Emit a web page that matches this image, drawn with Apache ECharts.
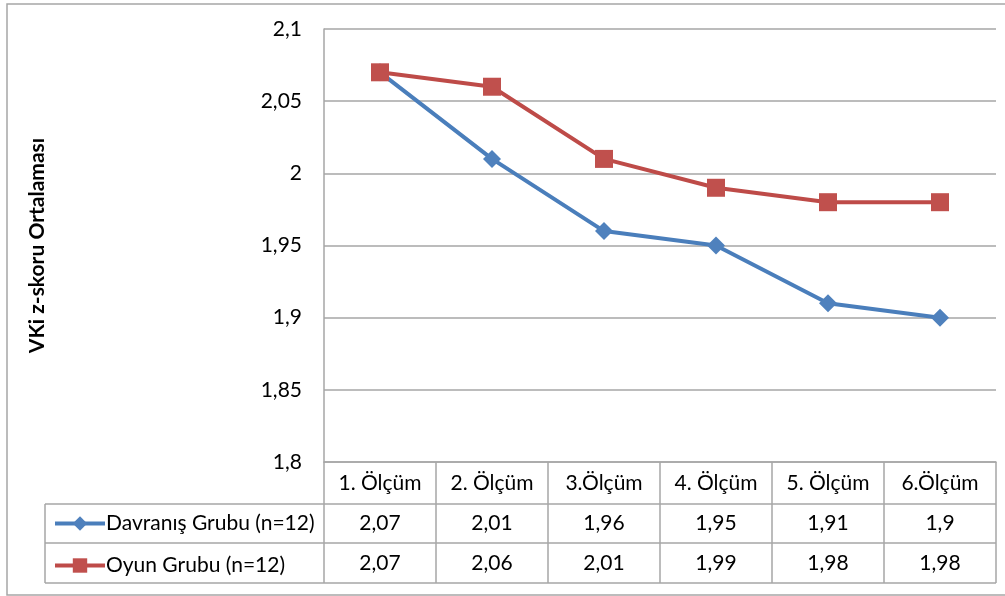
<!DOCTYPE html>
<html>
<head>
<meta charset="utf-8">
<script src="https://cdn.jsdelivr.net/npm/echarts@6/dist/echarts.min.js"></script>
<style>
html,body{margin:0;padding:0;background:#fff;}
#c{width:1005px;height:596px;}
</style>
</head>
<body>
<div id="c"></div>
<script>
const categories = ['1. Ölçüm', '2. Ölçüm', '3.Ölçüm', '4. Ölçüm', '5. Ölçüm', '6.Ölçüm'];
const davranis = [2.07, 2.01, 1.96, 1.95, 1.91, 1.9];
const oyun = [2.07, 2.06, 2.01, 1.99, 1.98, 1.98];
const seriesNames = ['Davranış Grubu (n=12)', 'Oyun Grubu (n=12)'];
const yTicks = [1.8, 1.85, 1.9, 1.95, 2, 2.05, 2.1];
const yTitle = 'VKi z-skoru Ortalaması';

const FONT = 'Lato';
const FS = 21;
const fmt = v => String(+v.toFixed(2)).replace('.', ',');

const G = {left: 324, top: 29, width: 672, height: 433};
const ROW = 40;

const chart = echarts.init(document.getElementById('c'), null, {renderer: 'canvas'});

function tableAxis(idx, values) {
  return {
    type: 'category', gridIndex: 0, position: 'bottom', offset: 42 + ROW * idx,
    data: categories, boundaryGap: true,
    axisLine: {show: false}, axisTick: {show: false},
    axisLabel: {margin: 9, color: '#000', fontFamily: FONT, fontSize: FS, formatter: (v, i) => fmt(values[i])}
  };
}

chart.setOption({
  animation: false,
  textStyle: {fontFamily: FONT},
  grid: G,
  legend: {
    orient: 'vertical', left: 48, top: 508, itemGap: 21, itemWidth: 50, itemHeight: 18,
    lineStyle: {width: 4},
    textStyle: {fontFamily: FONT, fontSize: FS, color: '#000', lineHeight: 18, padding: [0, 0, 0, -4]},
    data: seriesNames
  },
  xAxis: [
    {
      type: 'category', gridIndex: 0, data: categories, boundaryGap: true,
      axisLine: {lineStyle: {color: '#A6A6A6', width: 1.5}},
      axisTick: {show: true, length: 121, lineStyle: {color: '#A6A6A6', width: 1.5}},
      axisLabel: {margin: 11, color: '#000', fontFamily: FONT, fontSize: FS}
    },
    tableAxis(0, davranis),
    tableAxis(1, oyun)
  ],
  yAxis: {
    type: 'value', min: yTicks[0], max: yTicks[yTicks.length - 1], interval: 0.05,
    axisLine: {show: true, lineStyle: {color: '#A6A6A6', width: 1.5}},
    axisTick: {show: false},
    splitLine: {lineStyle: {color: '#A6A6A6', width: 1.5}},
    axisLabel: {margin: 22, color: '#000', fontFamily: FONT, fontSize: FS, formatter: v => fmt(v)},
    name: yTitle, nameLocation: 'middle', nameRotate: 90, nameGap: 276,
    nameTextStyle: {fontFamily: FONT, fontSize: 21, fontWeight: 'bold', color: '#000'}
  },
  series: [
    {
      name: seriesNames[0], type: 'line', data: davranis, xAxisIndex: 0,
      symbol: 'diamond', symbolSize: 18,
      lineStyle: {color: '#4A7EBB', width: 4},
      itemStyle: {color: '#4F81BD'}
    },
    {
      name: seriesNames[1], type: 'line', data: oyun, xAxisIndex: 0,
      symbol: 'rect', symbolSize: 18,
      lineStyle: {color: '#BE4B48', width: 4},
      itemStyle: {color: '#C0504D'}
    }
  ]
});

// table structure lines (not data marks)
const L = 45, R = G.left + G.width, y0 = G.top + G.height;
const st = {stroke: '#A6A6A6', lineWidth: 1.5};
const lines = [];
for (let k = 1; k <= 3; k++) {
  const yy = y0 + 42 + ROW * (k - 1) - (k === 1 ? 0 : 1);
  lines.push({type: 'line', shape: {x1: L, y1: yy, x2: R, y2: yy}, style: st, silent: true});
}
lines.push({type: 'line', shape: {x1: L, y1: y0 + 42, x2: L, y2: y0 + 121}, style: st, silent: true});
lines.push({type: 'rect', shape: {x: 7, y: 4, width: 1010, height: 591}, style: {fill: null, stroke: '#A6A6A6', lineWidth: 1.5}, silent: true, z: -1});
chart.setOption({graphic: lines});
</script>
</body>
</html>
